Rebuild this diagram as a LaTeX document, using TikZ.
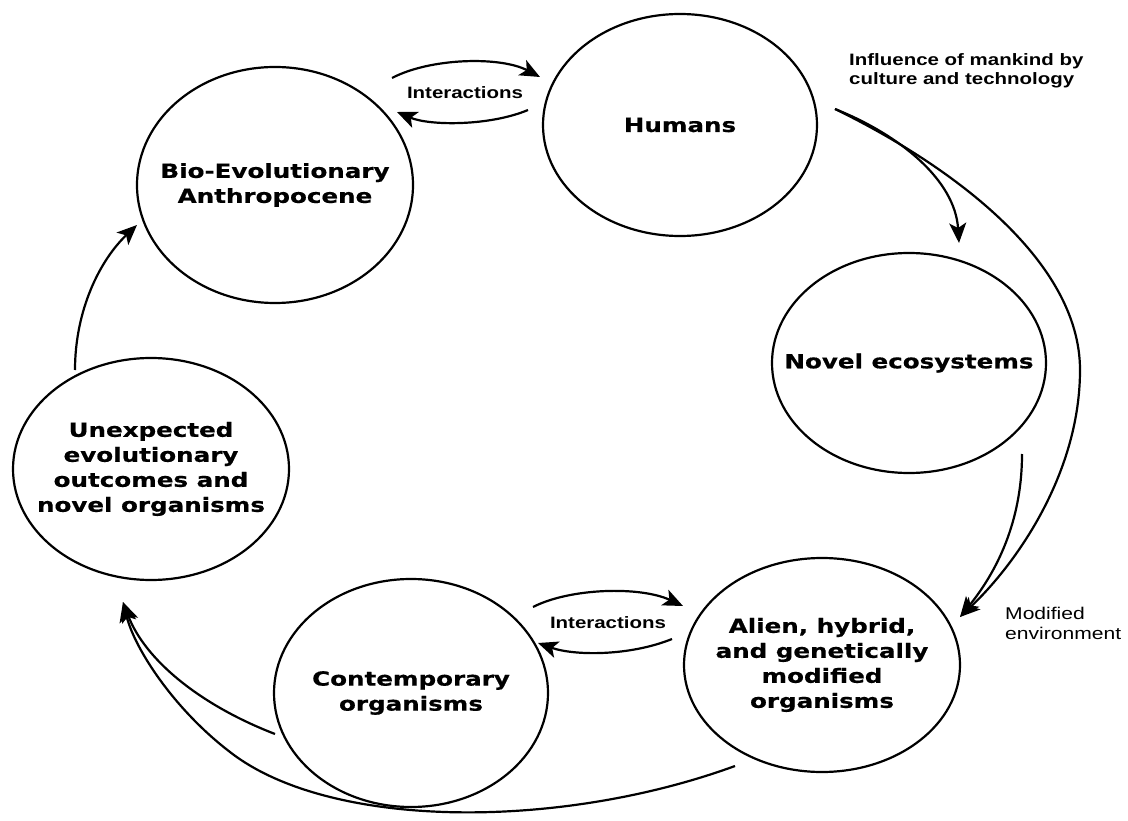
\documentclass[tikz,border=0pt]{standalone}
\usepackage{fontspec}
\usetikzlibrary{shapes.geometric,arrows.meta}
\newfontfamily\stagefam[FakeStretch=1.26, BoldFeatures={FakeBold=0.6}]{DejaVu Sans}
\newfontfamily\notefam[FakeStretch=1.24]{Liberation Sans}
\newcommand\stagefont{\stagefam\bfseries\fontsize{19.5}{25}\selectfont}
\newcommand\notefont{\notefam\bfseries\fontsize{16.5}{19}\selectfont}
\newcommand\envfont{\notefam\fontsize{17}{20}\selectfont}
\begin{document}
\begin{tikzpicture}[x=1pt,y=-1pt,
  stage/.style={draw, line width=2.2pt, ellipse, inner sep=0pt,
    label={[inner sep=0pt, align=center, font=\stagefont]center:{#1}}},
  link/.style={line width=2.2pt, -{Stealth[length=20pt,width=17pt,inset=5pt]}},
  note/.style={inner sep=0pt, font=\notefont},
]
\fill[white] (0,0) rectangle (1128,821);
\useasboundingbox (0,0) rectangle (1128,821);

% the six stages of the cycle
\node[stage={Humans}, minimum width=274pt, minimum height=222pt] (hum) at (680,125) {};
\node[stage={Bio-Evolutionary\\Anthropocene}, minimum width=276pt, minimum height=236pt] (bio) at (275,185) {};
\node[stage={Novel ecosystems}, minimum width=274pt, minimum height=220pt] (nov) at (909,363) {};
\node[stage={Unexpected\\evolutionary\\outcomes and\\novel organisms}, minimum width=276pt, minimum height=222pt] (unx) at (151,469) {};
\node[stage={Contemporary\\organisms}, minimum width=274pt, minimum height=228pt] (con) at (411,693) {};
\node[stage={Alien, hybrid,\\and genetically\\modified\\organisms}, minimum width=276pt, minimum height=214pt] (ali) at (822,665) {};

% free ends of the connectors
\coordinate (bioOut) at (392,78);
\coordinate (humIn)  at (540,77);
\coordinate (humOut) at (528,110);
\coordinate (bioIn)  at (397,112);
\coordinate (humSrc) at (835,109);
\coordinate (novIn)  at (959,243);
\coordinate (novOut) at (1022,454);
\coordinate (aliIn)  at (960,617);
\coordinate (conOut) at (533,607);
\coordinate (aliInL) at (683,606);
\coordinate (aliOut) at (672,639);
\coordinate (conIn)  at (538,643);
\coordinate (conSrc) at (275,734);
\coordinate (aliSrc) at (735,766);
\coordinate (unxIn)  at (123,602);
\coordinate (unxOut) at (75,370);
\coordinate (bioInL) at (137,225);

% interactions between the anthropocene and humans
\draw[link] (bioOut) .. controls (430,58) and (500,56) .. (humIn);
\draw[link] (humOut) .. controls (490,126) and (430,126) .. (bioIn);
\node[note] (int1) at (465,93) {Interactions};

% influence of mankind
\draw[link] (humSrc) .. controls (900,135) and (955,180) .. (novIn);
\draw[link] (humSrc) .. controls (950,165) and (1080,260) .. (1080,370)
                     .. controls (1080,470) and (1020,560) .. (aliIn);
\draw[link] (novOut) .. controls (1022,530) and (990,580) .. (aliIn);
\node[note, anchor=west, align=left] (infl) at (849,71) {Influence of mankind by\\culture and technology};
\node[inner sep=0pt, font=\envfont, anchor=west, align=left] (env) at (1005,623) {Modified\\environment};

% interactions between contemporary and modified organisms
\draw[link] (conOut) .. controls (570,588) and (640,586) .. (aliInL);
\draw[link] (aliOut) .. controls (630,656) and (575,656) .. (conIn);
\node[note] (int2) at (608,623) {Interactions};

% towards unexpected outcomes and back to the anthropocene
\draw[link] (conSrc) .. controls (200,705) and (145,660) .. (unxIn);
\draw[link] (aliSrc) .. controls (560,830) and (330,830) .. (230,752)
                     .. controls (175,710) and (135,650) .. (unxIn);
\draw[link] (unxOut) .. controls (75,310) and (100,260) .. (bioInL);
\end{tikzpicture}
\end{document}
